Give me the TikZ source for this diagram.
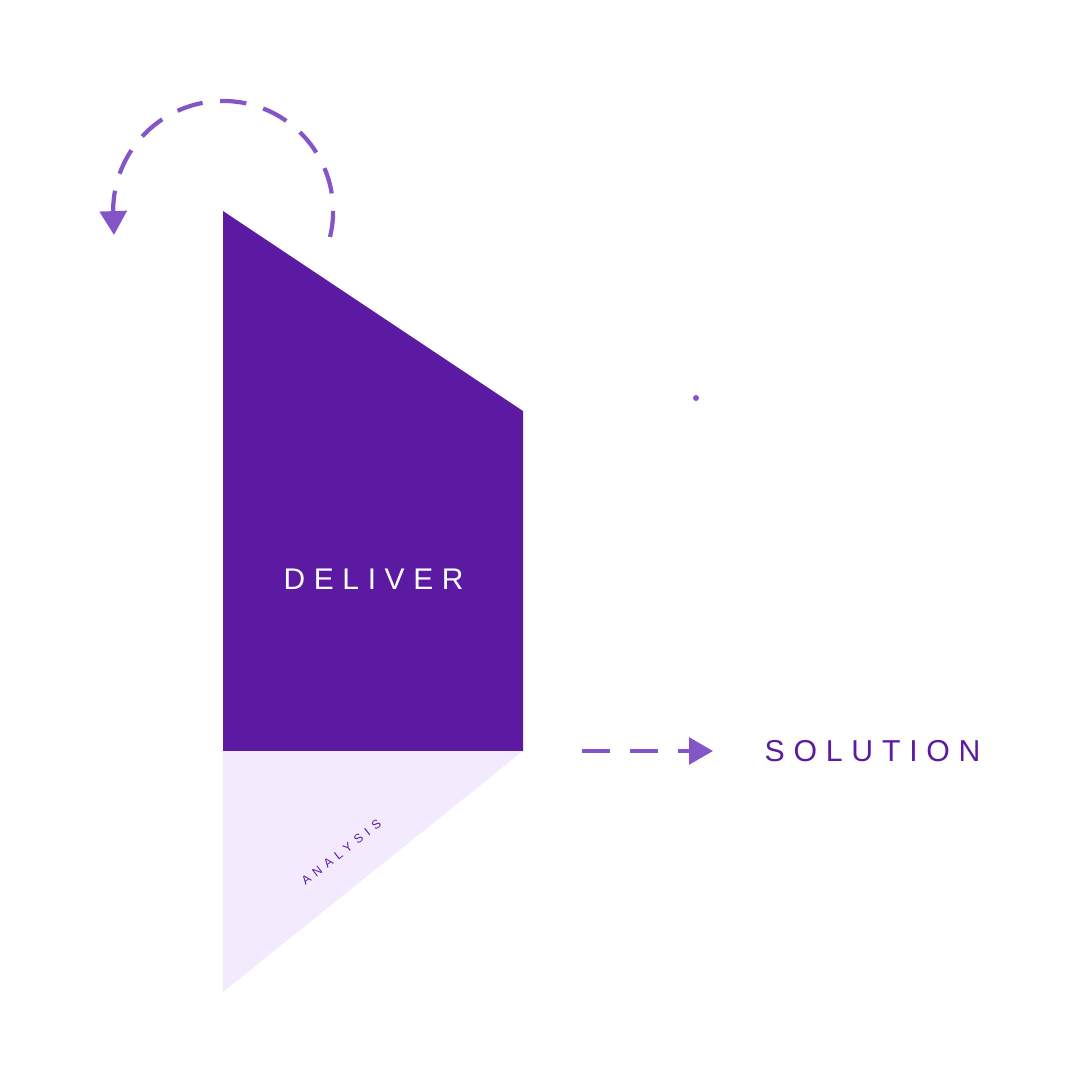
\documentclass[tikz,border=0pt]{standalone}
\usepackage{fontspec}
\setmainfont{Liberation Sans}
\newfontfamily\widefont[LetterSpace=29]{Liberation Sans}
\newfontfamily\smallwidefont[LetterSpace=44]{Liberation Sans}
\usetikzlibrary{arrows.meta}
\definecolor{deeppurple}{HTML}{5C1AA3}
\definecolor{midpurple}{HTML}{8455C8}
\definecolor{palepurple}{HTML}{F3EAFD}
\tikzset{
	label text/.style={inner sep=0pt, anchor=base west},
	dash arrow/.style={midpurple, line width=1.1pt, -{Triangle[length=6.8pt, width=7.6pt]}}
}
\begin{document}
\begin{tikzpicture}[x=0.1mm, y=-0.1mm]
	\useasboundingbox (0,0) rectangle (1081,1092);
	
	% shapes
	\fill[deeppurple] (223,211) -- (523,411) -- (523,751) -- (223,751) -- cycle;
	\fill[palepurple] (223,751) -- (523,751) -- (223,992) -- cycle;
	
	\node[label text, text=white] (deliver) at (283,589) {\fontsize{8.5}{10}\selectfont\widefont DELIVER};
	\node[label text, text=deeppurple] (solution) at (764,761) {\fontsize{8.6}{10}\selectfont\widefont SOLUTION};
	\node[label text, text=deeppurple, rotate=38] (analysis) at (305,886) {\fontsize{3.5}{4}\selectfont\smallwidefont ANALYSIS};
	
	% arrows
	\coordinate (arcstart) at (330,237);
	\coordinate (arcend) at (114,235);
	\draw[dash arrow, line width=1.2pt, dash pattern=on 7.5pt off 5pt] (arcstart) arc[start angle=13.7, end angle=-179, radius=110] -- (arcend);
	
	\coordinate (flowstart) at (582,751);
	\coordinate (flowend) at (713,751);
	\draw[dash arrow, line width=1pt, dash pattern=on 8pt off 5.6pt] (flowstart) -- (flowend);
	
	\fill[midpurple] (696,398) circle[radius=3];
	
\end{tikzpicture}
\end{document}
